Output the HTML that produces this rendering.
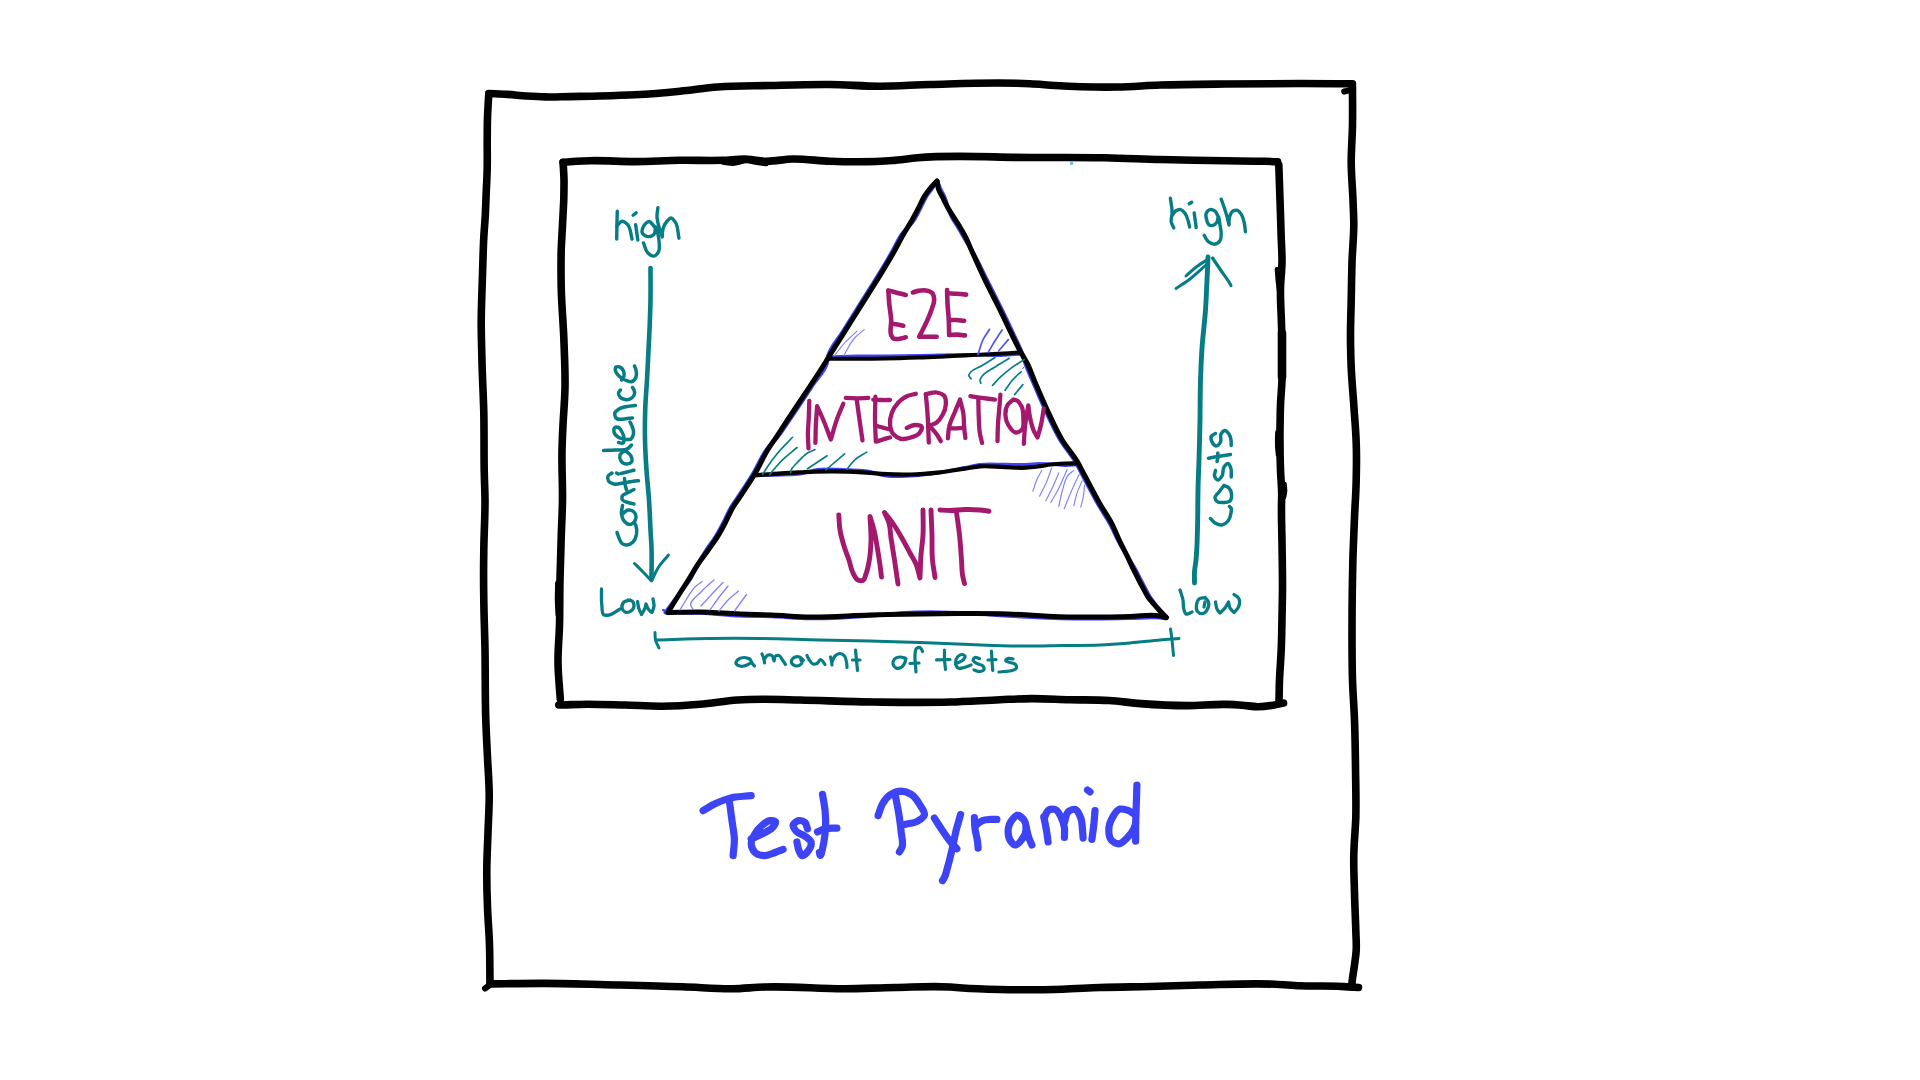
<!DOCTYPE html>
<html><head><meta charset="utf-8"><title>Test Pyramid</title>
<style>html,body{margin:0;padding:0;background:#fff;overflow:hidden;font-family:"Liberation Sans",sans-serif;}
svg{display:block;position:absolute;left:0;top:0}</style></head>
<body><svg width="1920" height="1080" viewBox="0 0 1920 1080" fill="none" stroke-linecap="round" stroke-linejoin="round">
<rect width="1920" height="1080" fill="#ffffff" stroke="none"/>
<path d="M488.8 93.5 C495.0 93.8 501.3 94.0 507.5 94.4 C513.8 94.8 520.0 95.6 526.2 96.0 C532.5 96.4 538.7 96.8 545.0 96.9 C553.3 97.1 561.7 96.7 570.0 96.6 C580.0 96.4 590.0 96.3 600.0 96.0 C611.7 95.7 623.3 95.4 635.0 94.8 C650.0 94.0 665.0 92.7 680.0 91.2 C692.5 90.0 705.0 88.0 717.5 87.0 C734.9 85.6 752.5 85.9 770.0 85.5 C790.0 85.0 810.0 84.3 830.0 84.5 C846.7 84.7 863.3 86.2 880.0 86.2 C896.7 86.2 913.3 84.9 930.0 84.5 C963.3 83.6 996.7 81.9 1030.0 83.8 C1038.3 84.2 1046.7 85.0 1055.0 85.5 C1075.8 86.7 1096.7 87.4 1117.5 87.0 C1131.7 86.7 1145.8 85.5 1160.0 85.0 C1181.7 84.3 1203.3 84.2 1225.0 84.0 C1250.0 83.7 1275.0 83.5 1300.0 83.5 C1317.5 83.5 1335.0 83.7 1352.5 83.8" stroke="#000000" stroke-width="7.6"/>
<path d="M1352.5 87.0 C1352.5 99.7 1352.7 112.3 1352.5 125.0 C1352.3 137.5 1351.2 150.0 1351.2 162.5 C1351.3 175.0 1352.5 187.5 1353.0 200.0 C1353.3 208.3 1353.8 216.7 1353.8 225.0 C1353.7 237.5 1352.4 250.0 1352.0 262.5 C1351.6 275.0 1351.5 287.5 1351.2 300.0 C1351.0 312.3 1350.4 324.7 1350.5 337.0 C1350.5 347.2 1350.8 357.3 1351.2 367.5 C1351.8 380.0 1352.9 392.5 1353.8 405.0 C1354.6 417.5 1355.8 430.0 1356.2 442.5 C1356.7 455.0 1356.5 467.5 1356.2 480.0 C1356.0 492.5 1355.0 505.0 1354.5 517.5 C1354.0 530.0 1353.4 542.5 1353.0 555.0 C1352.7 566.7 1352.5 578.3 1352.3 590.0 C1352.1 603.3 1352.0 616.7 1352.0 630.0 C1352.0 646.7 1352.0 663.3 1352.5 680.0 C1352.9 693.3 1354.0 706.7 1354.5 720.0 C1355.1 735.7 1355.3 751.3 1355.5 767.0 C1355.7 783.8 1356.2 800.7 1355.8 817.5 C1355.4 830.0 1354.0 842.5 1353.8 855.0 C1353.5 867.5 1354.2 880.0 1354.5 892.5 C1354.8 905.0 1355.4 917.5 1355.8 930.0 C1355.9 936.7 1356.6 943.4 1356.2 950.0 C1356.0 955.0 1355.1 960.0 1354.5 965.0 C1353.7 971.0 1352.5 977.0 1352.0 983.0 C1351.9 984.0 1351.9 985.0 1351.8 986.0" stroke="#000000" stroke-width="7.6"/>
<path d="M485.0 988.5 L489.0 985.5" stroke="#000000" stroke-width="6"/>
<path d="M490.0 983.9 C508.3 983.7 526.7 983.3 545.0 983.4 C570.0 983.5 595.0 984.4 620.0 985.0 C640.8 985.5 661.7 986.0 682.5 986.8 C699.2 987.3 715.8 989.0 732.5 988.8 C743.3 988.6 754.2 987.3 765.0 987.0 C791.6 986.1 818.3 988.9 845.0 988.8 C861.7 988.6 878.3 987.8 895.0 987.5 C913.3 987.2 931.7 985.8 950.0 987.0 C954.2 987.3 958.3 987.7 962.5 988.0 C975.0 988.9 987.5 989.2 1000.0 989.5 C1020.8 990.0 1041.7 989.9 1062.5 989.2 C1075.0 988.9 1087.5 987.9 1100.0 987.5 C1116.7 986.9 1133.3 986.9 1150.0 986.5 C1166.7 986.1 1183.3 985.4 1200.0 985.0 C1225.0 984.5 1250.0 983.2 1275.0 984.2 C1283.3 984.6 1291.7 985.4 1300.0 985.8 C1312.5 986.3 1325.0 985.7 1337.5 986.2 C1344.5 986.6 1351.5 987.1 1358.5 987.5" stroke="#000000" stroke-width="7.6"/>
<path d="M488.8 93.8 C488.3 101.7 487.8 109.6 487.5 117.5 C487.2 125.8 487.3 134.2 487.2 142.5 C487.2 150.8 487.4 159.2 487.2 167.5 C487.1 175.8 486.6 184.2 486.2 192.5 C485.9 200.0 485.7 207.5 485.3 215.0 C484.9 222.5 484.2 230.0 483.8 237.5 C483.1 250.0 482.9 262.5 482.5 275.0 C482.0 291.7 481.2 308.3 481.2 325.0 C481.3 337.5 481.7 350.0 482.0 362.5 C482.4 379.2 483.4 395.8 483.8 412.5 C484.2 431.7 483.9 450.8 484.2 470.0 C484.4 480.0 484.9 490.0 485.0 500.0 C485.1 516.7 484.0 533.3 483.8 550.0 C483.5 566.7 483.5 583.3 483.8 600.0 C484.0 616.7 484.7 633.3 485.0 650.0 C485.4 673.3 485.0 696.7 485.8 720.0 C486.2 732.5 486.9 745.0 487.5 757.5 C488.1 770.0 489.2 782.5 489.2 795.0 C489.3 807.5 488.4 820.0 488.0 832.5 C487.6 845.0 486.8 857.5 486.8 870.0 C486.7 882.5 487.0 895.0 487.5 907.5 C488.0 920.0 489.1 932.5 489.5 945.0 C489.9 957.7 489.8 970.3 490.0 983.0" stroke="#000000" stroke-width="7.6"/>
<path d="M1344.3 91.6 L1348.5 90.6" stroke="#000000" stroke-width="6.2"/>
<path d="M563.1 162.3 C567.5 162.0 571.9 161.6 576.2 161.3 C580.8 161.0 585.4 160.8 590.0 160.7 C605.0 160.3 620.0 161.7 635.0 161.6 C650.0 161.5 665.0 160.5 680.0 160.3 C694.2 160.1 708.3 160.7 722.5 160.3 C730.8 160.1 739.2 158.8 747.5 159.2 C753.3 159.5 759.2 161.0 765.0 161.2 C774.1 161.6 783.3 159.2 792.5 159.0 C805.0 158.7 817.5 160.8 830.0 161.2 C850.8 161.9 871.8 162.2 892.5 160.5 C900.8 159.8 909.2 158.5 917.5 157.8 C954.8 154.5 992.5 157.5 1030.0 157.5 C1055.0 157.5 1080.0 157.2 1105.0 157.7 C1123.3 158.1 1141.7 159.0 1160.0 159.5 C1181.7 160.1 1203.3 160.5 1225.0 160.8 C1238.3 161.0 1251.7 160.9 1265.0 161.3 C1269.2 161.4 1273.4 161.6 1277.6 161.8" stroke="#000000" stroke-width="7.6"/>
<path d="M1278.8 165.0 C1279.2 176.7 1279.6 188.3 1280.0 200.0 C1280.4 212.5 1280.9 225.0 1281.2 237.5 C1281.5 245.7 1282.1 253.8 1282.0 262.0 C1281.9 270.5 1280.7 279.0 1280.5 287.5 C1280.2 300.0 1281.2 312.5 1281.5 325.0 C1281.7 331.7 1281.9 338.3 1282.0 345.0 C1282.2 356.7 1282.4 368.3 1282.0 380.0 C1281.7 388.3 1280.8 396.7 1280.5 405.0 C1280.2 413.3 1280.1 421.7 1280.0 430.0 C1279.9 443.3 1280.0 456.7 1280.5 470.0 C1280.8 478.3 1281.7 486.7 1281.7 495.0 C1281.7 498.3 1281.5 501.7 1281.5 505.0 C1281.3 517.5 1281.8 530.0 1282.0 542.5 C1282.2 558.3 1282.6 574.2 1282.5 590.0 C1282.4 599.2 1282.2 608.3 1282.0 617.5 C1281.8 628.3 1281.7 639.2 1281.2 650.0 C1280.8 660.0 1279.9 670.0 1279.5 680.0 C1279.2 687.0 1279.2 694.0 1279.0 701.0" stroke="#000000" stroke-width="7.6"/>
<path d="M558.8 705.0 C568.3 704.8 577.9 704.3 587.5 704.2 C600.0 704.2 612.5 704.7 625.0 705.0 C637.5 705.3 650.0 706.4 662.5 706.2 C675.0 706.1 687.5 705.3 700.0 704.2 C712.5 703.2 725.0 700.8 737.5 700.0 C745.8 699.5 754.2 699.3 762.5 699.2 C775.0 699.1 787.5 699.7 800.0 700.0 C825.0 700.6 850.0 701.7 875.0 702.0 C900.0 702.3 925.0 702.7 950.0 702.0 C966.7 701.5 983.3 700.4 1000.0 699.7 C1010.3 699.3 1020.7 698.7 1031.0 698.6 C1044.0 698.5 1057.0 699.4 1070.0 699.7 C1083.0 700.0 1096.0 699.7 1109.0 700.5 C1119.6 701.2 1130.1 702.8 1140.6 703.6 C1156.2 704.8 1171.9 705.6 1187.5 705.6 C1200.5 705.6 1213.6 704.0 1226.6 704.4 C1231.7 704.5 1236.9 704.8 1242.0 705.2 C1247.3 705.6 1252.5 706.7 1257.8 706.7 C1263.0 706.7 1268.3 706.0 1273.4 705.2 C1276.8 704.6 1280.1 703.8 1283.5 703.1" stroke="#000000" stroke-width="7.6"/>
<path d="M563.1 162.5 C563.4 168.3 563.9 174.2 564.0 180.0 C564.1 186.2 563.9 192.5 563.8 198.8 C563.5 207.5 562.9 216.3 562.5 225.0 C562.1 233.3 561.5 241.7 561.2 250.0 C560.9 262.5 561.0 275.0 561.2 287.5 C561.6 304.2 563.1 320.8 563.8 337.5 C564.4 354.2 565.3 370.8 565.0 387.5 C564.8 400.0 563.6 412.5 563.0 425.0 C562.6 433.3 562.2 441.7 562.0 450.0 C561.6 466.7 562.7 483.3 562.5 500.0 C562.3 512.5 561.6 525.0 561.2 537.5 C561.0 545.8 560.7 554.2 560.5 562.5 C560.3 568.3 560.1 574.2 560.0 580.0 C559.6 595.0 559.9 610.0 559.5 625.0 C559.2 637.5 557.8 650.0 558.0 662.5 C558.1 674.7 559.5 686.8 560.3 699.0" stroke="#000000" stroke-width="7.6"/>
<path d="M557.6 583.0 C557.5 588.7 557.2 594.3 557.3 600.0 C557.4 605.0 557.8 610.0 558.0 615.0" stroke="#000000" stroke-width="5"/>
<path d="M1282.0 333.0 L1282.0 377.0" stroke="#000000" stroke-width="8.6"/>
<path d="M723.0 161.8 C726.3 162.2 729.7 163.0 733.0 163.0 C737.7 162.9 742.3 160.1 747.0 160.2 C750.3 160.3 753.7 161.5 757.0 162.0 C760.0 162.5 763.0 162.9 766.0 163.3" stroke="#000000" stroke-width="6"/>
<path d="M1277.2 269.5 C1277.5 273.0 1277.7 276.5 1278.0 280.0 C1278.4 284.0 1279.0 288.0 1279.5 292.0" stroke="#000000" stroke-width="5"/>
<path d="M1277.4 432.0 C1277.3 436.3 1277.0 440.7 1277.2 445.0 C1277.3 448.3 1277.7 451.7 1278.0 455.0" stroke="#000000" stroke-width="4.5"/>
<path d="M1284.6 484.0 C1284.7 486.7 1285.3 489.4 1285.0 492.0 C1284.8 493.7 1284.3 495.3 1284.0 497.0" stroke="#000000" stroke-width="4.5"/>
<path d="M1071.5 163.0 L1071.7 163.4" stroke="#55c3f2" stroke-width="3.3"/>
<path d="M937.0 181.0 C935.4 183.4 933.8 185.9 932.1 188.3 C930.0 191.3 927.7 194.0 925.8 197.1 C923.9 200.3 922.5 203.9 920.8 207.2 C918.8 211.2 916.9 215.3 914.5 219.1 C910.6 225.3 904.6 230.0 900.6 236.1 C897.8 240.5 895.6 245.4 893.1 250.0 C881.8 270.5 868.8 290.1 856.4 310.0 C851.7 317.5 846.9 324.9 842.3 332.5 C837.4 340.4 830.2 347.5 828.0 356.5 C827.5 358.6 827.4 360.9 826.9 363.0 C824.8 371.3 817.5 377.7 812.7 385.0 C805.0 396.7 797.4 408.5 789.4 420.0 C785.0 426.4 781.0 433.1 776.0 439.0 C773.5 441.9 770.6 444.5 768.2 447.5 C761.5 455.7 757.9 466.0 752.3 475.0 C747.4 482.9 742.3 490.6 737.1 498.3 C735.2 501.1 733.2 503.8 731.4 506.7 C728.2 512.0 726.0 517.8 723.1 523.3 C720.7 527.8 718.3 532.4 715.6 536.7 C712.8 541.3 709.3 545.5 706.4 550.0 C703.3 554.9 700.3 559.9 697.5 565.0 C694.7 569.9 692.5 575.2 689.5 580.0 C686.6 584.5 683.2 588.7 680.0 593.0 C675.2 599.5 670.3 606.0 665.5 612.5" stroke="#4143f7" stroke-width="4.0"/>
<path d="M937.2 181.3 C938.2 183.8 939.2 186.4 940.3 188.9 C941.6 191.9 943.5 194.7 944.7 197.7 C946.0 201.0 946.7 204.5 947.9 207.8 C949.2 211.2 950.6 214.7 952.3 217.9 C954.1 221.4 956.6 224.5 958.6 227.9 C960.3 230.8 961.9 233.9 963.6 236.8 C965.6 240.3 967.9 243.6 970.0 247.0 C976.3 257.6 981.3 269.0 986.9 280.0 C991.9 290.0 997.0 300.0 1001.9 310.0 C1005.6 317.5 1009.2 325.0 1012.7 332.5 C1015.5 338.6 1018.6 344.6 1021.0 350.8 C1022.7 355.1 1024.0 359.6 1025.6 364.0 C1027.9 370.2 1030.7 376.4 1033.3 382.5 C1036.9 390.9 1040.4 399.2 1044.2 407.5 C1049.3 418.5 1054.1 429.7 1060.3 440.0 C1065.2 448.1 1071.8 455.1 1076.4 463.3 C1077.6 465.5 1078.7 467.8 1079.9 470.0 C1082.9 475.7 1085.9 481.3 1088.9 487.0 C1091.9 492.7 1094.9 498.4 1098.1 504.0 C1101.8 510.5 1106.2 516.7 1109.8 523.3 C1112.8 528.7 1115.1 534.5 1118.0 540.0 C1121.0 545.7 1124.2 551.2 1127.5 556.7 C1130.0 560.9 1132.8 564.9 1135.2 569.2 C1137.2 572.7 1138.8 576.4 1140.7 580.0 C1141.9 582.3 1143.1 584.7 1144.4 587.0 C1146.2 590.3 1147.8 593.8 1149.9 597.0 C1151.5 599.4 1153.2 601.7 1155.0 604.0 C1156.6 606.0 1158.3 608.0 1160.0 610.0 C1162.1 612.5 1164.3 615.0 1166.5 617.5" stroke="#4143f7" stroke-width="4.0"/>
<path d="M668.0 612.5 C678.7 612.7 689.3 612.6 700.0 613.0 C713.4 613.5 726.7 615.2 740.0 615.8 C750.7 616.3 761.3 616.1 772.0 616.5 C784.7 617.0 797.3 618.3 810.0 618.5 C830.0 618.8 850.0 617.5 870.0 616.0 C881.7 615.1 893.3 613.3 905.0 612.7 C916.6 612.1 928.3 612.1 940.0 612.2 C951.7 612.4 963.3 612.8 975.0 613.5 C983.3 614.0 991.7 614.8 1000.0 615.4 C1025.0 617.0 1050.0 618.2 1075.0 618.6 C1093.3 618.9 1111.7 618.5 1130.0 618.3 C1140.0 618.2 1150.1 616.9 1160.0 617.8 C1162.0 618.0 1164.0 618.3 1166.0 618.5" stroke="#4143f7" stroke-width="3.6"/>
<path d="M829.0 356.8 C838.2 356.6 847.5 356.4 856.7 356.2 C866.1 356.1 875.6 356.1 885.0 356.0 C896.7 355.9 908.3 355.7 920.0 355.5 C926.7 355.4 933.3 355.3 940.0 355.2 C948.3 355.0 956.7 354.5 965.0 354.5 C970.0 354.5 975.0 354.6 980.0 354.7 C986.1 354.8 992.2 355.4 998.3 355.4 C1005.4 355.3 1012.4 354.5 1019.5 354.1" stroke="#4143f7" stroke-width="3.2"/>
<path d="M754.0 475.4 C763.2 475.2 772.5 475.3 781.7 474.9 C787.8 474.6 794.0 474.8 800.0 473.8 C805.1 473.0 810.0 471.0 815.0 470.1 C825.9 468.3 837.2 469.4 848.3 469.9 C855.5 470.2 863.0 470.0 870.0 471.6 C874.0 472.5 877.7 474.4 881.7 475.2 C890.8 477.3 900.6 476.4 910.0 476.0 C920.0 475.5 930.1 473.9 940.0 472.3 C948.4 471.0 956.7 469.2 965.0 467.6 C970.0 466.6 975.0 465.2 980.0 464.6 C988.2 463.6 996.7 464.4 1005.0 464.4 C1011.9 464.4 1018.9 464.7 1025.8 464.5 C1030.5 464.4 1035.3 463.7 1040.0 463.7 C1043.6 463.7 1047.2 463.8 1050.8 464.0 C1055.5 464.3 1060.3 465.2 1065.0 465.3 C1069.3 465.4 1073.7 465.0 1078.0 464.8" stroke="#4143f7" stroke-width="3.2"/>
<path d="M663.2 610.0 L666.0 611.5" stroke="#4143f7" stroke-width="2.4"/>
<path d="M937.0 181.0 C934.7 183.4 932.3 185.7 930.2 188.3 C927.9 191.1 925.8 194.0 923.9 197.1 C922.0 200.3 920.6 203.9 918.9 207.2 C916.9 211.2 914.8 215.2 912.6 219.1 C909.4 224.9 905.7 230.4 902.5 236.1 C899.9 240.7 897.5 245.4 895.0 250.0 C883.7 270.5 870.7 290.1 858.3 310.0 C853.6 317.5 848.9 325.0 844.2 332.5 C839.2 340.5 834.0 348.4 829.0 356.5 C827.7 358.7 826.3 360.8 825.0 363.0 C820.4 370.4 815.6 377.7 810.8 385.0 C803.1 396.7 795.2 408.3 787.5 420.0 C783.3 426.3 779.2 432.7 775.0 439.0 C773.1 441.8 771.1 444.6 769.2 447.5 C763.5 456.3 759.6 466.1 754.2 475.0 C749.4 482.9 744.2 490.6 739.0 498.3 C737.1 501.1 735.1 503.8 733.3 506.7 C730.1 512.0 727.9 517.8 725.0 523.3 C722.6 527.8 720.2 532.4 717.5 536.7 C714.7 541.3 711.4 545.6 708.3 550.0 C704.8 555.0 700.9 559.9 697.5 565.0 C694.3 569.9 691.4 575.0 688.3 580.0 C685.6 584.4 682.7 588.6 680.0 593.0 C675.9 599.5 672.0 606.0 668.0 612.5" stroke="#000000" stroke-width="5.0"/>
<path d="M937.2 181.3 C937.6 183.8 937.7 186.5 938.4 188.9 C939.3 192.0 941.3 194.8 942.8 197.7 C944.5 201.1 946.1 204.5 947.9 207.8 C949.8 211.3 952.1 214.5 954.2 217.9 C956.3 221.2 958.5 224.5 960.5 227.9 C962.2 230.8 964.0 233.8 965.5 236.8 C967.2 240.1 968.5 243.6 970.0 247.0 C974.9 258.0 979.8 269.1 985.0 280.0 C989.8 290.1 995.1 300.0 1000.0 310.0 C1003.7 317.5 1007.1 325.0 1010.8 332.5 C1013.8 338.6 1016.8 344.8 1020.0 350.8 C1022.4 355.3 1025.2 359.5 1027.5 364.0 C1030.5 370.0 1032.6 376.4 1035.2 382.5 C1038.8 390.9 1042.3 399.2 1046.1 407.5 C1051.2 418.5 1056.0 429.7 1062.2 440.0 C1067.1 448.1 1073.7 455.1 1078.3 463.3 C1079.5 465.5 1080.6 467.8 1081.8 470.0 C1084.8 475.7 1087.8 481.3 1090.8 487.0 C1093.8 492.7 1096.8 498.4 1100.0 504.0 C1103.7 510.5 1108.3 516.6 1111.7 523.3 C1114.5 528.7 1116.6 534.5 1119.2 540.0 C1121.9 545.6 1124.8 551.1 1127.5 556.7 C1129.5 560.8 1131.3 565.1 1133.3 569.2 C1135.1 572.8 1136.9 576.4 1138.8 580.0 C1140.0 582.3 1141.2 584.7 1142.5 587.0 C1144.3 590.3 1145.8 593.9 1148.0 597.0 C1149.7 599.5 1151.8 601.7 1153.7 604.0 C1155.4 606.0 1157.2 608.0 1159.0 610.0 C1161.4 612.6 1164.0 615.0 1166.5 617.5" stroke="#000000" stroke-width="5.0"/>
<path d="M668.0 612.5 C678.7 612.3 689.3 611.9 700.0 612.0 C713.3 612.2 726.7 613.5 740.0 614.0 C750.7 614.4 761.3 614.6 772.0 615.0 C784.7 615.5 797.3 616.8 810.0 617.0 C830.0 617.4 850.0 615.5 870.0 615.0 C881.7 614.7 893.3 614.4 905.0 614.2 C916.7 614.0 928.3 613.9 940.0 613.8 C951.7 613.6 963.3 613.5 975.0 613.5 C983.3 613.5 991.7 613.6 1000.0 613.8 C1025.0 614.2 1050.0 616.7 1075.0 617.0 C1093.3 617.2 1111.7 616.8 1130.0 616.5 C1140.0 616.4 1150.2 614.0 1160.0 616.0 C1162.0 616.4 1164.0 617.0 1166.0 617.5" stroke="#000000" stroke-width="5.0"/>
<path d="M829.0 358.8 C838.2 358.8 847.5 358.8 856.7 358.8 C866.1 358.7 875.6 358.7 885.0 358.5 C896.7 358.3 908.3 357.9 920.0 357.5 C926.7 357.3 933.3 357.0 940.0 356.7 C948.3 356.3 956.7 355.9 965.0 355.5 C970.0 355.2 975.0 355.0 980.0 354.7 C986.1 354.4 992.2 354.1 998.3 353.8 C1005.4 353.4 1012.4 352.9 1019.5 352.5" stroke="#000000" stroke-width="4.0"/>
<path d="M754.0 475.4 C763.2 474.7 772.5 473.9 781.7 473.3 C787.8 472.9 793.9 472.6 800.0 472.3 C805.0 472.1 810.0 471.8 815.0 471.7 C826.1 471.4 837.2 471.4 848.3 471.7 C855.5 471.9 862.8 472.3 870.0 472.8 C873.9 473.1 877.8 473.5 881.7 473.8 C891.1 474.4 900.6 474.7 910.0 474.5 C920.0 474.3 930.0 473.4 940.0 472.3 C948.4 471.3 956.7 469.8 965.0 468.6 C970.0 467.9 975.0 466.8 980.0 466.4 C988.3 465.7 996.7 467.0 1005.0 467.2 C1011.9 467.4 1018.9 468.1 1025.8 467.7 C1030.5 467.5 1035.3 466.8 1040.0 466.2 C1043.6 465.7 1047.2 464.9 1050.8 464.5 C1055.5 463.9 1060.3 463.7 1065.0 463.5 C1069.3 463.3 1073.7 463.4 1078.0 463.3" stroke="#000000" stroke-width="4.2"/>
<path d="M905.8 295.0 C902.8 294.2 899.7 293.5 896.7 292.7 C893.9 291.9 891.1 291.2 888.3 290.4 C888.6 294.7 888.8 299.0 889.2 303.3 C889.7 308.9 890.9 314.4 891.2 320.0 C891.6 325.3 889.0 331.3 891.5 335.8 C892.0 336.8 892.6 337.9 893.3 338.5 C894.7 339.6 897.2 338.9 899.2 338.8 C901.4 338.6 903.6 337.8 905.8 337.3" stroke="#a3196e" stroke-width="4.6"/>
<path d="M891.7 323.8 C893.6 324.0 895.6 324.3 897.5 324.6 C899.5 324.9 901.4 325.3 903.3 325.7" stroke="#a3196e" stroke-width="4.6"/>
<path d="M912.9 292.5 C914.7 291.9 916.5 291.2 918.3 290.8 C920.8 290.4 923.4 290.0 925.8 290.4 C928.2 290.8 931.1 291.6 932.5 293.3 C933.6 294.8 934.0 297.2 934.2 299.2 C934.5 302.5 932.7 305.9 931.7 309.2 C930.3 313.4 928.5 317.6 926.7 321.7 C924.4 326.8 921.7 331.7 919.2 336.7 C921.9 336.7 924.7 336.7 927.5 336.7 C930.6 336.7 933.6 336.7 936.7 336.7" stroke="#a3196e" stroke-width="4.6"/>
<path d="M947.1 290.0 C947.2 294.4 947.3 298.9 947.5 303.3 C947.8 308.9 948.5 314.4 948.8 320.0 C949.0 325.0 949.0 330.0 949.2 335.0" stroke="#a3196e" stroke-width="4.6"/>
<path d="M947.5 293.3 C950.3 293.5 953.1 293.6 955.8 293.8 C959.3 294.0 962.8 294.3 966.2 294.6" stroke="#a3196e" stroke-width="4.6"/>
<path d="M949.2 320.0 C951.7 320.0 954.2 319.9 956.7 320.0 C959.2 320.1 961.7 320.6 964.2 320.8" stroke="#a3196e" stroke-width="4.6"/>
<path d="M949.2 335.0 C951.9 334.9 954.7 334.5 957.5 334.6 C960.0 334.7 962.5 335.1 965.0 335.4" stroke="#a3196e" stroke-width="4.6"/>
<path d="M809.3 400.8 C809.1 406.4 809.0 411.9 808.8 417.5 C808.5 423.1 807.9 428.6 807.9 434.2 C807.9 438.9 808.3 443.6 808.5 448.3" stroke="#a3196e" stroke-width="4.3"/>
<path d="M815.4 442.9 C815.6 437.2 815.6 431.5 815.8 425.8 C816.1 419.3 816.7 412.8 817.1 406.2 C819.2 410.8 821.4 415.4 823.3 420.0 C826.1 426.4 828.3 433.1 830.8 439.6 C832.8 433.1 834.4 426.4 836.7 420.0 C838.6 414.5 841.1 409.2 843.3 403.8" stroke="#a3196e" stroke-width="4.3"/>
<path d="M845.8 397.9 C849.4 398.1 853.1 398.3 856.7 398.3 C860.6 398.3 864.4 398.1 868.3 397.9" stroke="#a3196e" stroke-width="4.3"/>
<path d="M856.7 399.2 C857.5 405.3 858.3 411.4 859.2 417.5 C860.2 425.1 861.4 432.8 862.5 440.4" stroke="#a3196e" stroke-width="4.3"/>
<path d="M875.4 396.7 C875.3 403.6 875.0 410.6 875.0 417.5 C875.0 425.6 875.6 433.6 875.8 441.7 C878.1 441.0 880.3 440.2 882.5 439.6 C885.0 438.8 887.5 438.2 890.0 437.5" stroke="#a3196e" stroke-width="4.3"/>
<path d="M873.3 399.6 C876.1 399.7 878.9 399.9 881.7 400.0 C884.4 400.1 887.2 400.0 890.0 400.0" stroke="#a3196e" stroke-width="4.3"/>
<path d="M875.8 425.8 C878.1 426.4 880.3 426.9 882.5 427.5 C884.7 428.1 886.9 428.6 889.2 429.2" stroke="#a3196e" stroke-width="4.3"/>
<path d="M915.8 393.8 C912.8 394.6 909.5 394.9 906.7 396.2 C903.6 397.7 900.7 400.0 898.3 402.5 C895.5 405.5 893.0 409.4 891.7 413.3 C890.5 416.7 889.7 420.6 890.0 424.2 C890.3 427.6 891.2 431.7 893.3 434.2 C895.1 436.3 898.1 438.1 900.8 438.8 C903.9 439.5 907.7 438.5 910.8 437.5 C913.8 436.6 917.3 435.6 919.2 433.3 C920.6 431.6 922.4 428.1 921.7 426.7 C920.9 425.3 917.2 425.0 915.0 425.0 C912.2 425.0 909.4 426.9 906.7 427.9" stroke="#a3196e" stroke-width="4.3"/>
<path d="M925.8 394.2 C926.4 400.6 927.1 406.9 927.5 413.3 C927.9 418.9 928.1 424.4 928.3 430.0 C928.5 434.2 928.6 438.3 928.8 442.5" stroke="#a3196e" stroke-width="4.3"/>
<path d="M925.8 394.2 C929.4 393.6 933.2 391.9 936.7 392.5 C939.3 393.0 942.6 394.0 944.2 395.8 C945.9 397.9 946.0 402.0 945.8 405.0 C945.6 408.4 944.2 412.0 942.5 415.0 C941.0 417.7 939.1 420.7 936.7 422.5 C934.5 424.1 931.7 424.7 929.2 425.8 C931.7 428.6 934.5 431.1 936.7 434.2 C938.2 436.4 939.4 438.9 940.8 441.2" stroke="#a3196e" stroke-width="4.3"/>
<path d="M947.9 438.3 C948.3 434.4 948.3 430.5 949.2 426.7 C950.3 421.5 953.0 416.6 955.0 411.7 C956.6 407.6 958.3 403.6 960.0 399.6 C961.1 404.2 962.6 408.7 963.3 413.3 C964.1 418.3 963.7 423.4 964.2 428.3 C964.5 431.5 965.0 434.7 965.4 437.9" stroke="#a3196e" stroke-width="4.3"/>
<path d="M949.2 428.3 C951.7 428.3 954.2 428.4 956.7 428.3 C959.2 428.3 961.7 428.1 964.2 427.9" stroke="#a3196e" stroke-width="4.3"/>
<path d="M970.4 396.2 C974.2 396.8 977.9 397.4 981.7 397.9 C986.1 398.5 990.6 399.0 995.0 399.6" stroke="#a3196e" stroke-width="4.3"/>
<path d="M978.3 398.3 C978.5 404.7 978.4 411.1 978.8 417.5 C979.0 423.1 979.0 428.7 980.0 434.2 C980.5 437.1 981.4 440.0 982.1 442.9" stroke="#a3196e" stroke-width="4.3"/>
<path d="M1000.4 394.6 C1000.0 399.4 999.6 404.3 999.2 409.2 C998.7 414.7 998.2 420.3 997.9 425.8 C997.7 431.0 997.6 436.1 997.5 441.2" stroke="#a3196e" stroke-width="4.3"/>
<path d="M1013.3 399.6 C1011.4 401.4 1008.8 402.8 1007.5 405.0 C1005.8 407.8 1005.3 411.7 1005.4 415.0 C1005.5 418.4 1006.6 422.1 1008.3 425.0 C1010.1 428.0 1012.9 432.4 1015.8 432.5 C1017.6 432.5 1020.3 431.3 1021.7 430.0 C1024.4 427.5 1023.4 421.7 1023.3 417.5 C1023.3 413.9 1023.2 409.9 1021.7 406.7 C1020.7 404.6 1019.4 402.0 1017.5 400.8 C1016.3 400.1 1014.7 400.0 1013.3 399.6" stroke="#a3196e" stroke-width="4.3"/>
<path d="M1023.8 443.8 C1024.2 438.1 1024.4 432.3 1025.0 426.7 C1025.8 419.5 1027.2 412.5 1028.3 405.4 C1028.9 409.4 1029.2 413.5 1030.0 417.5 C1031.0 422.3 1032.1 427.3 1034.2 431.7 C1035.1 433.7 1036.4 435.6 1037.5 437.5 C1038.6 433.6 1039.9 429.8 1040.8 425.8 C1042.2 420.1 1042.8 414.2 1043.8 408.3" stroke="#a3196e" stroke-width="4.3"/>
<path d="M838.8 515.0 C839.2 520.0 839.2 525.1 840.0 530.0 C840.9 535.4 842.4 540.7 844.0 546.0 C845.4 550.7 847.4 555.3 849.0 560.0 C850.4 564.3 850.9 569.1 853.0 573.0 C854.3 575.5 855.6 579.0 858.0 580.0 C859.4 580.6 861.7 581.0 863.0 580.5 C864.8 579.7 865.1 576.2 866.0 574.0 C867.8 569.2 868.7 564.1 869.5 559.0 C870.5 552.7 870.8 546.3 871.0 540.0 C871.2 532.2 870.3 524.3 870.0 516.5 C871.3 521.0 872.9 525.4 874.0 530.0 C875.3 535.3 876.1 540.7 877.0 546.0 C878.1 552.3 879.1 558.6 880.0 565.0 C880.5 569.0 881.0 573.0 881.5 577.0" stroke="#a3196e" stroke-width="4.9"/>
<path d="M898.0 584.0 C896.8 576.0 895.7 568.0 894.5 560.0 C893.4 552.7 892.1 545.3 891.0 538.0 C890.3 533.0 890.4 527.8 889.0 523.0 C887.9 519.4 886.0 516.0 884.5 512.5 C887.7 516.7 891.1 520.7 894.0 525.0 C897.3 529.8 900.1 534.9 903.0 540.0 C905.4 544.3 907.7 548.7 910.0 553.0 C912.0 556.7 914.4 560.2 916.0 564.0 C917.9 568.4 918.7 573.3 920.0 578.0 C920.3 570.3 920.4 562.7 921.0 555.0 C921.5 548.3 922.6 541.7 923.0 535.0 C923.5 526.7 923.0 518.3 923.0 510.0" stroke="#a3196e" stroke-width="4.9"/>
<path d="M931.0 510.0 C931.3 518.3 931.7 526.7 932.0 535.0 C932.2 543.3 931.7 551.7 932.5 560.0 C933.0 565.9 934.2 571.7 935.0 577.5" stroke="#a3196e" stroke-width="4.9"/>
<path d="M940.0 510.0 C943.3 510.2 946.7 510.5 950.0 510.5 C955.0 510.5 960.0 509.6 965.0 509.5 C970.0 509.4 975.0 509.5 980.0 510.0 C983.0 510.3 986.0 510.8 989.0 511.2" stroke="#a3196e" stroke-width="4.9"/>
<path d="M956.5 512.5 C957.5 520.0 958.7 527.5 959.5 535.0 C960.4 543.3 960.9 551.7 961.5 560.0 C961.9 565.0 961.7 570.1 962.5 575.0 C963.0 577.9 963.8 580.7 964.5 583.5" stroke="#a3196e" stroke-width="4.9"/>
<path d="M617.3 211.1 C617.2 215.7 617.0 220.4 616.9 225.0 C616.8 229.7 616.8 234.4 616.7 239.1" stroke="#067c85" stroke-width="3.4"/>
<path d="M617.0 226.0 C618.7 224.4 620.1 221.3 622.0 221.2 C623.6 221.1 625.7 222.8 627.1 224.0 C630.9 227.2 630.4 234.1 632.1 239.1" stroke="#067c85" stroke-width="3.4"/>
<path d="M633.1 215.2 L636.2 212.7" stroke="#067c85" stroke-width="3.4"/>
<path d="M635.6 224.6 L637.8 240.1" stroke="#067c85" stroke-width="3.4"/>
<path d="M654.8 227.2 C652.9 225.3 651.0 221.6 649.1 221.5 C647.0 221.4 643.8 225.2 642.8 227.8 C642.2 229.3 641.7 231.5 642.2 232.8 C642.9 234.8 646.3 236.6 648.5 236.6 C650.3 236.6 653.0 235.5 654.2 234.1 C655.5 232.5 655.0 228.2 655.4 227.2 C656.4 224.9 659.1 238.0 659.2 243.5 C659.3 246.2 659.8 249.5 658.6 251.7 C657.6 253.5 655.3 255.9 653.5 256.1 C651.8 256.2 649.4 254.4 647.9 253.0 C645.3 250.6 645.0 246.3 643.5 242.9" stroke="#067c85" stroke-width="3.4"/>
<path d="M657.9 207.6 C657.6 210.5 656.9 213.5 657.0 216.4 C657.1 220.2 658.2 224.1 659.2 227.8 C660.0 230.9 661.3 233.9 662.3 236.9 C662.5 234.3 662.3 231.5 663.0 229.0 C663.7 226.3 665.0 223.5 666.8 221.5 C668.0 220.1 669.8 217.9 671.2 218.0 C672.5 218.1 673.9 220.2 674.9 221.5 C678.4 225.8 677.6 232.6 679.0 238.2" stroke="#067c85" stroke-width="3.4"/>
<path d="M1170.4 198.3 C1171.0 203.3 1172.2 208.3 1172.1 213.3 C1172.0 216.1 1170.8 219.0 1171.2 221.7 C1171.6 223.8 1172.9 225.8 1173.8 227.9" stroke="#067c85" stroke-width="3.4"/>
<path d="M1172.5 215.0 C1173.6 213.6 1174.4 211.7 1175.8 210.8 C1177.2 210.0 1179.4 209.2 1180.8 209.6 C1182.4 209.9 1183.9 211.9 1185.0 213.3 C1186.4 215.2 1187.2 217.7 1187.9 220.0 C1188.7 222.3 1189.0 224.7 1189.6 227.1" stroke="#067c85" stroke-width="3.4"/>
<path d="M1189.2 203.8 L1191.7 202.3" stroke="#067c85" stroke-width="3.4"/>
<path d="M1194.2 212.9 C1194.6 215.8 1195.0 218.8 1195.4 221.7 C1195.7 223.6 1196.0 225.6 1196.2 227.5" stroke="#067c85" stroke-width="3.4"/>
<path d="M1218.3 216.7 C1217.2 214.9 1216.6 212.4 1215.0 211.2 C1213.7 210.3 1211.5 209.2 1210.0 209.6 C1208.5 209.9 1206.9 211.9 1206.2 213.3 C1205.4 215.2 1206.1 217.9 1206.7 220.0 C1207.2 221.8 1207.7 224.2 1209.2 225.0 C1210.1 225.5 1211.8 225.7 1212.9 225.4 C1214.3 225.1 1215.8 223.7 1216.7 222.5 C1217.8 220.9 1217.8 217.0 1218.3 216.7 C1219.0 216.2 1219.5 222.2 1220.0 225.0 C1220.5 228.0 1221.4 231.1 1221.2 234.2 C1221.1 236.4 1221.2 239.2 1220.0 240.8 C1218.8 242.5 1216.2 244.1 1214.2 244.2 C1212.3 244.2 1209.9 242.9 1208.3 241.7 C1206.4 240.2 1205.6 237.5 1204.2 235.4" stroke="#067c85" stroke-width="3.4"/>
<path d="M1221.2 199.2 C1222.2 201.9 1223.2 204.7 1224.2 207.5 C1225.2 210.5 1226.2 213.6 1227.1 216.7 C1227.8 219.4 1228.4 222.2 1229.0 225.0 C1229.2 222.2 1228.7 219.2 1229.6 216.7 C1230.3 214.6 1231.4 211.7 1233.3 210.8 C1234.5 210.3 1236.3 210.1 1237.5 210.4 C1239.3 210.9 1240.6 213.3 1241.7 215.0 C1243.0 217.2 1243.6 219.9 1244.2 222.5 C1244.9 225.5 1245.0 228.6 1245.4 231.7" stroke="#067c85" stroke-width="3.4"/>
<path d="M650.5 268.0 C650.5 278.7 650.7 289.3 650.5 300.0 C650.3 310.0 649.9 320.0 649.5 330.0 C649.2 336.7 648.8 343.3 648.5 350.0 C648.0 360.0 647.5 370.0 647.0 380.0 C646.4 390.0 645.5 400.0 645.2 410.0 C644.9 420.0 644.8 430.0 645.0 440.0 C645.2 450.0 645.8 460.0 646.5 470.0 C647.2 480.0 648.3 490.0 649.0 500.0 C649.7 510.0 650.0 520.0 650.5 530.0 C650.8 536.0 651.3 542.0 651.5 548.0 C651.9 558.3 651.5 568.7 651.5 579.0" stroke="#067c85" stroke-width="4.6"/>
<path d="M634.5 563.5 C637.7 566.7 640.9 569.8 644.0 573.0 C646.5 575.6 649.0 578.3 651.5 581.0 C653.7 576.7 655.4 572.1 658.0 568.0 C661.0 563.3 665.0 559.3 668.5 555.0" stroke="#067c85" stroke-width="3.0"/>
<path d="M1208.0 257.0 C1207.7 264.7 1207.4 272.3 1207.0 280.0 C1206.5 290.0 1206.2 300.0 1205.5 310.0 C1204.6 322.7 1202.9 335.3 1202.0 348.0 C1201.3 358.7 1200.8 369.3 1200.5 380.0 C1200.1 393.3 1200.2 406.7 1200.0 420.0 C1199.7 433.3 1199.4 446.7 1199.0 460.0 C1198.7 470.0 1198.2 480.0 1198.0 490.0 C1197.7 502.7 1197.9 515.3 1197.5 528.0 C1197.2 538.7 1197.1 549.4 1196.0 560.0 C1195.6 564.0 1194.7 568.0 1194.5 572.0 C1194.3 575.7 1194.5 579.3 1194.5 583.0" stroke="#067c85" stroke-width="4.8999999999999995"/>
<path d="M1207.5 259.5 C1203.3 262.3 1198.9 264.9 1195.0 268.0 C1191.9 270.5 1189.0 273.3 1186.0 276.0" stroke="#067c85" stroke-width="3.0"/>
<path d="M1206.0 265.0 C1200.7 269.7 1195.6 274.7 1190.0 279.0 C1185.5 282.4 1180.7 285.3 1176.0 288.5" stroke="#067c85" stroke-width="3.0"/>
<path d="M1212.5 258.0 C1215.7 262.7 1218.8 267.4 1222.0 272.0 C1224.3 275.3 1226.9 278.5 1229.0 282.0 C1229.7 283.2 1230.3 284.3 1231.0 285.5" stroke="#067c85" stroke-width="3.2"/>
<path d="M621.5 380.0 C622.3 378.7 623.6 377.4 624.0 376.0 C624.4 374.5 624.1 372.4 623.5 371.0 C622.8 369.4 621.2 367.5 619.5 367.0 C618.5 366.7 616.7 366.5 616.0 367.0 C615.2 367.6 615.3 369.8 615.5 371.0 C615.8 372.9 617.6 374.6 619.0 376.0 C620.7 377.7 622.8 379.1 625.0 380.0 C627.2 380.9 630.1 382.2 632.0 381.5 C633.6 380.9 635.3 378.7 636.0 377.0 C636.8 375.0 636.5 372.2 636.0 370.0 C635.7 368.6 635.0 367.3 634.5 366.0" stroke="#067c85" stroke-width="3.5"/>
<path d="M620.5 390.0 C619.8 391.0 618.7 391.9 618.5 393.0 C618.3 394.3 619.2 396.0 620.0 397.0 C621.1 398.3 623.3 399.2 625.0 399.5 C626.9 399.8 629.4 399.5 631.0 398.5 C632.5 397.6 634.2 395.7 634.5 394.0 C634.7 392.8 634.5 391.2 634.0 390.0 C633.7 389.1 633.0 388.3 632.5 387.5" stroke="#067c85" stroke-width="3.5"/>
<path d="M632.5 418.0 C626.8 417.7 617.4 421.7 615.5 417.2 C615.0 416.1 614.5 414.2 614.8 413.0 C615.2 411.3 617.4 410.0 619.0 409.0 C621.3 407.5 624.3 407.1 627.0 406.5 C629.8 405.9 632.7 405.8 635.5 405.5" stroke="#067c85" stroke-width="3.5"/>
<path d="M618.5 442.5 C620.0 442.7 622.1 443.6 623.0 443.0 C624.1 442.3 624.1 439.6 624.0 438.0 C623.9 436.0 623.0 433.8 622.0 432.0 C621.1 430.4 620.1 428.1 618.5 427.5 C617.5 427.1 615.8 427.0 615.0 427.5 C614.0 428.1 613.8 430.6 614.0 432.0 C614.3 433.9 616.3 435.8 618.0 437.0 C619.7 438.2 621.9 438.6 624.0 439.0 C626.3 439.4 629.4 440.2 631.0 439.0 C632.3 438.1 633.1 435.7 633.5 434.0 C634.0 431.5 633.0 428.5 632.0 426.0 C631.5 424.6 630.7 423.3 630.0 422.0" stroke="#067c85" stroke-width="3.5"/>
<path d="M603.5 450.5 C607.3 450.3 611.2 450.3 615.0 450.0 C619.3 449.7 624.6 450.9 628.0 448.5 C629.3 447.6 630.3 446.2 631.5 445.0" stroke="#067c85" stroke-width="3.5"/>
<path d="M625.0 450.5 C623.3 452.0 620.6 453.1 620.0 455.0 C619.5 456.7 620.0 459.5 621.0 461.0 C622.1 462.6 625.0 464.1 627.0 464.0 C628.5 463.9 630.7 463.1 631.5 462.0 C632.4 460.7 631.7 457.7 631.0 456.0 C630.1 454.0 627.7 452.7 626.0 451.0" stroke="#067c85" stroke-width="3.5"/>
<path d="M621.0 473.5 C623.0 473.0 625.0 472.5 627.0 472.0 C629.3 471.4 631.7 470.9 634.0 470.3" stroke="#067c85" stroke-width="3.5"/>
<path d="M616.5 473.0 L618.5 474.0" stroke="#067c85" stroke-width="3.5"/>
<path d="M612.0 473.0 C610.7 474.0 608.6 474.7 608.0 476.0 C607.4 477.3 607.8 479.7 608.5 481.0 C609.4 482.6 612.1 483.5 614.0 484.0 C616.8 484.7 620.0 483.4 623.0 483.0 C626.0 482.6 629.0 481.9 632.0 481.5 C634.2 481.2 636.3 481.0 638.5 480.8" stroke="#067c85" stroke-width="3.5"/>
<path d="M624.5 478.5 C624.7 480.3 624.7 482.2 625.0 484.0 C625.3 486.0 626.0 488.0 626.5 490.0" stroke="#067c85" stroke-width="3.5"/>
<path d="M634.0 489.5 C631.7 490.7 629.2 491.6 627.0 493.0 C625.3 494.1 622.4 494.8 622.0 496.5 C621.8 497.5 622.0 499.1 622.5 500.0 C623.4 501.6 626.1 501.8 628.0 502.5 C629.9 503.2 632.0 503.5 634.0 504.0" stroke="#067c85" stroke-width="3.5"/>
<path d="M622.5 505.5 C622.2 508.3 621.1 511.3 621.5 514.0 C621.9 516.6 622.7 519.6 624.5 521.5 C625.8 522.8 627.8 524.5 629.5 524.5 C631.2 524.5 633.4 523.0 634.5 521.5 C635.5 520.2 636.1 518.1 636.0 516.5 C635.9 514.8 634.8 512.6 633.5 511.5 C632.2 510.4 629.7 509.7 628.0 510.0 C626.2 510.3 624.7 512.3 623.0 513.5" stroke="#067c85" stroke-width="3.5"/>
<path d="M617.0 532.5 C617.7 534.3 618.2 536.2 619.0 538.0 C619.9 539.9 620.5 542.3 622.0 543.5 C623.3 544.5 625.4 545.1 627.0 545.0 C629.1 544.9 631.5 543.5 633.0 542.0 C635.0 540.1 636.0 536.8 636.5 534.0 C636.9 531.4 636.8 528.5 636.0 526.0 C635.7 525.2 635.3 524.3 635.0 523.5" stroke="#067c85" stroke-width="3.5"/>
<path d="M1210.5 518.5 C1212.0 520.0 1213.2 521.9 1215.0 523.0 C1217.0 524.2 1219.8 525.3 1222.0 525.0 C1224.2 524.7 1226.5 522.8 1228.0 521.0 C1229.7 518.9 1230.6 515.8 1231.0 513.0 C1231.2 511.4 1231.8 509.3 1231.0 508.0 C1230.6 507.4 1230.0 507.0 1229.5 506.5" stroke="#067c85" stroke-width="3.5"/>
<path d="M1224.0 485.5 C1222.3 487.7 1220.6 489.8 1219.0 492.0 C1217.6 494.0 1214.7 495.9 1215.0 498.0 C1215.2 499.1 1216.1 500.7 1217.0 501.5 C1218.6 502.9 1221.7 502.6 1224.0 502.5 C1226.0 502.4 1228.7 502.2 1230.0 501.0 C1231.5 499.6 1231.7 496.3 1231.5 494.0 C1231.3 491.9 1230.4 489.4 1229.0 488.0 C1227.8 486.8 1225.7 486.3 1224.0 485.5" stroke="#067c85" stroke-width="3.5"/>
<path d="M1215.5 470.5 C1215.2 472.3 1214.0 474.4 1214.5 476.0 C1214.9 477.5 1216.8 479.9 1218.0 480.0 C1219.3 480.1 1221.0 477.5 1222.0 476.0 C1223.6 473.5 1222.3 469.4 1224.0 467.0 C1225.0 465.6 1226.9 463.3 1228.0 463.5 C1229.1 463.7 1230.2 466.4 1230.8 468.0 C1231.8 470.7 1231.1 474.0 1231.2 477.0" stroke="#067c85" stroke-width="3.5"/>
<path d="M1208.5 458.2 C1211.7 457.6 1214.8 457.0 1218.0 456.5 C1222.2 455.8 1226.3 455.2 1230.5 454.5" stroke="#067c85" stroke-width="3.5"/>
<path d="M1217.8 453.0 C1217.8 454.7 1218.0 456.4 1217.8 458.0 C1217.6 459.2 1217.3 460.3 1217.0 461.5" stroke="#067c85" stroke-width="3.5"/>
<path d="M1215.5 433.5 C1214.2 434.3 1212.2 434.8 1211.5 436.0 C1210.6 437.5 1211.2 440.3 1212.0 442.0 C1212.8 443.6 1214.6 445.9 1216.0 446.0 C1217.5 446.1 1219.6 443.6 1220.5 442.0 C1221.7 439.8 1219.8 436.2 1221.0 434.0 C1221.8 432.7 1223.3 430.7 1224.5 430.5 C1225.9 430.3 1227.9 432.5 1229.0 434.0 C1230.2 435.6 1230.6 437.9 1231.0 440.0 C1231.3 441.8 1231.1 443.7 1231.2 445.5" stroke="#067c85" stroke-width="3.5"/>
<path d="M601.5 589.0 C601.6 594.3 601.1 599.7 601.8 605.0 C602.3 608.4 601.5 613.9 604.0 615.0 C605.2 615.5 607.4 615.2 609.0 615.0 C613.0 614.4 616.3 611.0 620.0 609.0" stroke="#067c85" stroke-width="3.3"/>
<path d="M630.0 600.0 C628.0 600.7 625.3 600.7 624.0 602.0 C622.7 603.3 621.6 606.2 622.0 608.0 C622.3 609.4 623.7 611.4 625.0 612.0 C626.6 612.7 629.5 612.1 631.0 611.0 C632.4 610.0 633.9 607.7 634.0 606.0 C634.1 604.4 633.3 602.0 632.0 601.0 C631.0 600.3 629.3 600.3 628.0 600.0" stroke="#067c85" stroke-width="3.3"/>
<path d="M637.5 601.5 C638.0 604.0 638.2 606.6 639.0 609.0 C639.6 610.9 640.7 612.7 641.5 614.5 C642.7 612.3 644.2 610.3 645.0 608.0 C645.4 606.7 645.7 605.3 646.0 604.0 C647.0 606.0 647.5 608.4 649.0 610.0 C649.8 611.0 651.0 611.7 652.0 612.5 C652.7 610.3 653.8 608.2 654.0 606.0 C654.2 603.7 653.3 601.3 653.0 599.0" stroke="#067c85" stroke-width="3.3"/>
<path d="M1180.0 590.0 C1181.0 593.3 1182.3 596.6 1183.0 600.0 C1183.6 603.3 1182.9 606.9 1184.0 610.0 C1184.5 611.4 1185.0 613.4 1186.0 614.0 C1187.4 614.8 1190.0 612.7 1192.0 612.0" stroke="#067c85" stroke-width="3.3"/>
<path d="M1205.0 597.5 C1203.0 598.0 1200.4 597.8 1199.0 599.0 C1197.5 600.2 1196.8 602.9 1196.5 605.0 C1196.2 607.1 1196.3 610.1 1197.5 611.5 C1198.6 612.8 1201.4 613.8 1203.0 613.5 C1204.8 613.2 1206.6 610.8 1207.5 609.0 C1208.5 607.0 1209.2 604.1 1208.5 602.0 C1208.0 600.3 1206.2 599.0 1205.0 597.5" stroke="#067c85" stroke-width="3.3"/>
<path d="M1205.0 602.0 L1204.0 607.0" stroke="#067c85" stroke-width="3.3"/>
<path d="M1215.5 602.0 C1216.0 604.3 1216.0 606.9 1217.0 609.0 C1217.7 610.5 1219.0 611.7 1220.0 613.0 C1221.7 611.3 1223.6 609.9 1225.0 608.0 C1226.4 606.2 1227.3 604.0 1228.5 602.0 C1229.0 604.0 1229.1 606.2 1230.0 608.0 C1230.9 609.7 1232.7 611.0 1234.0 612.5 C1235.5 610.7 1237.7 609.1 1238.5 607.0 C1239.6 604.4 1239.9 600.3 1238.5 598.0 C1237.6 596.5 1235.5 595.7 1234.0 594.5" stroke="#067c85" stroke-width="3.3"/>
<path d="M656.0 640.0 C674.0 639.5 692.0 638.7 710.0 638.5 C726.7 638.3 743.3 638.3 760.0 638.5 C780.0 638.7 800.0 639.6 820.0 640.0 C836.7 640.4 853.3 640.6 870.0 641.0 C886.7 641.4 903.3 641.9 920.0 642.5 C936.7 643.1 953.3 643.9 970.0 644.5 C986.7 645.1 1003.3 645.9 1020.0 646.0 C1034.0 646.1 1048.0 645.7 1062.0 645.5 C1074.7 645.3 1087.3 645.5 1100.0 645.0 C1110.0 644.6 1120.0 643.8 1130.0 643.0 C1140.0 642.2 1150.0 640.9 1160.0 640.0 C1166.3 639.4 1172.7 639.0 1179.0 638.5" stroke="#067c85" stroke-width="3.0"/>
<path d="M655.0 632.5 C655.2 635.0 654.9 637.6 655.5 640.0 C656.1 642.8 657.8 645.3 659.0 648.0" stroke="#067c85" stroke-width="3.0"/>
<path d="M1170.5 629.0 C1171.0 632.7 1171.6 636.3 1172.0 640.0 C1172.6 645.2 1173.0 650.3 1173.5 655.5" stroke="#067c85" stroke-width="3.0"/>
<path d="M750.0 659.0 C748.0 658.5 746.0 657.4 744.0 657.5 C742.0 657.6 739.4 658.1 738.0 659.5 C737.0 660.5 735.7 662.4 736.0 663.5 C736.3 664.6 738.6 665.6 740.0 666.0 C742.1 666.6 744.9 666.0 747.0 665.0 C748.5 664.3 750.8 663.4 751.0 662.0 C751.1 661.1 750.0 659.2 750.0 659.0 C750.0 658.7 751.2 661.8 752.0 663.0 C752.7 664.1 753.7 665.0 754.5 666.0" stroke="#067c85" stroke-width="3.2"/>
<path d="M762.0 654.0 C762.7 655.7 763.6 657.3 764.0 659.0 C764.3 660.3 764.3 661.7 764.5 663.0" stroke="#067c85" stroke-width="3.2"/>
<path d="M764.0 659.5 C765.3 658.0 766.3 655.5 768.0 655.0 C769.2 654.7 771.0 654.9 772.0 655.5 C773.4 656.4 773.4 661.1 774.0 661.0 C774.5 660.9 774.3 656.8 775.5 656.0 C776.3 655.4 778.0 655.2 779.0 655.5 C780.6 655.9 781.4 658.5 782.5 660.0 C783.6 661.5 784.5 663.0 785.5 664.5" stroke="#067c85" stroke-width="3.2"/>
<path d="M803.4 660.2 C802.1 659.1 801.0 657.5 799.5 657.0 C798.0 656.5 795.8 656.6 794.5 657.3 C793.1 658.0 791.2 660.1 791.3 661.5 C791.3 662.8 792.9 664.6 794.2 665.3 C795.5 666.0 797.6 666.1 799.0 665.6 C800.2 665.1 801.8 663.9 802.0 662.8 C802.1 661.9 801.2 660.7 800.8 659.7" stroke="#067c85" stroke-width="3.2"/>
<path d="M807.0 655.5 C807.7 656.8 808.2 658.3 809.0 659.5 C810.1 661.2 811.3 663.5 813.0 664.0 C814.2 664.3 815.9 664.0 817.0 663.5 C818.5 662.8 819.3 659.7 820.5 659.5 C822.0 659.3 823.5 662.8 825.0 664.5" stroke="#067c85" stroke-width="3.2"/>
<path d="M830.5 657.0 C830.8 658.3 831.2 659.7 831.5 661.0 C831.7 662.3 831.8 663.7 832.0 665.0" stroke="#067c85" stroke-width="3.2"/>
<path d="M832.0 662.0 C833.0 660.0 833.5 657.5 835.0 656.0 C836.3 654.8 838.4 653.4 840.0 653.5 C841.5 653.6 843.4 654.8 844.5 656.0 C845.8 657.5 846.1 659.9 846.5 662.0 C846.9 663.8 846.8 665.7 847.0 667.5" stroke="#067c85" stroke-width="3.2"/>
<path d="M855.5 650.0 C855.8 653.3 856.2 656.7 856.5 660.0 C856.8 663.5 857.2 667.0 857.5 670.5" stroke="#067c85" stroke-width="3.2"/>
<path d="M852.5 660.0 L860.0 660.0" stroke="#067c85" stroke-width="3.2"/>
<path d="M906.0 658.5 C904.0 658.0 902.0 656.9 900.0 657.0 C898.1 657.1 895.7 657.7 894.5 659.0 C893.5 660.2 892.7 662.5 893.0 664.0 C893.3 665.5 894.7 667.4 896.0 668.0 C897.3 668.6 899.6 668.2 901.0 667.5 C902.5 666.8 903.7 665.0 904.5 663.5 C905.3 662.0 905.5 660.2 906.0 658.5" stroke="#067c85" stroke-width="3.2"/>
<path d="M922.5 651.5 C921.7 650.2 921.2 647.8 920.0 647.5 C919.1 647.2 917.4 647.9 916.5 648.5 C914.9 649.7 915.3 652.8 915.0 655.0 C914.6 658.3 915.3 661.7 915.5 665.0 C915.6 667.3 915.8 669.7 916.0 672.0" stroke="#067c85" stroke-width="3.2"/>
<path d="M910.0 663.5 L919.0 663.0" stroke="#067c85" stroke-width="3.2"/>
<path d="M944.5 650.0 C944.5 653.3 944.3 656.7 944.5 660.0 C944.7 663.2 945.2 666.3 945.5 669.5" stroke="#067c85" stroke-width="3.2"/>
<path d="M936.5 659.8 L950.0 659.5" stroke="#067c85" stroke-width="3.2"/>
<path d="M957.0 663.0 C959.0 662.0 961.6 661.6 963.0 660.0 C963.9 658.9 965.5 657.0 965.0 656.0 C964.6 655.3 963.0 654.6 962.0 654.5 C960.5 654.4 958.6 655.8 957.5 657.0 C956.2 658.5 955.3 661.1 955.5 663.0 C955.7 664.7 956.7 667.2 958.0 668.0 C959.4 668.9 962.0 667.9 964.0 667.5 C966.4 667.0 968.7 665.8 971.0 665.0" stroke="#067c85" stroke-width="3.2"/>
<path d="M979.5 658.5 C978.0 658.2 976.2 656.9 975.0 657.5 C974.2 657.9 973.1 659.2 973.0 660.0 C972.8 661.3 975.5 662.6 977.0 663.5 C978.8 664.7 981.9 664.4 983.0 666.0 C983.6 666.9 984.3 668.6 984.0 669.5 C983.6 670.6 981.4 671.3 980.0 671.5 C978.1 671.8 976.0 670.5 974.0 670.0" stroke="#067c85" stroke-width="3.2"/>
<path d="M991.5 651.0 C991.7 654.3 991.8 657.7 992.0 661.0 C992.2 664.2 992.5 667.3 992.8 670.5" stroke="#067c85" stroke-width="3.2"/>
<path d="M988.0 660.0 L996.0 659.5" stroke="#067c85" stroke-width="3.2"/>
<path d="M1013.0 659.0 C1011.3 658.8 1009.4 657.9 1008.0 658.5 C1007.1 658.9 1005.6 659.9 1005.5 660.5 C1005.3 661.4 1008.5 661.9 1010.0 662.5 C1011.8 663.2 1014.5 663.1 1015.5 664.5 C1016.1 665.4 1016.7 667.1 1016.5 668.0 C1016.2 669.3 1013.6 669.9 1012.0 670.5 C1009.5 671.4 1006.7 671.2 1004.0 671.5 C1002.3 671.7 1000.7 671.8 999.0 672.0" stroke="#067c85" stroke-width="3.2"/>
<path d="M703.1 810.6 C707.1 808.3 710.9 805.7 715.0 803.8 C719.8 801.4 724.9 799.5 730.0 798.1 C736.9 796.3 744.2 796.5 751.2 795.6" stroke="#3d44f5" stroke-width="7.2"/>
<path d="M729.4 801.2 C730.2 807.5 731.1 813.7 731.9 820.0 C732.7 826.7 734.3 833.3 734.4 840.0 C734.4 845.2 733.5 850.4 733.1 855.6" stroke="#3d44f5" stroke-width="7.2"/>
<path d="M751.2 838.8 C755.0 837.1 758.9 835.7 762.5 833.8 C766.4 831.6 771.5 830.0 773.8 826.2 C774.6 824.9 776.0 822.8 775.6 821.9 C775.2 820.7 771.8 820.5 770.0 820.6 C767.3 820.8 764.7 823.2 762.5 825.0 C759.5 827.4 756.9 830.5 755.0 833.8 C753.2 836.8 751.1 840.4 751.2 843.8 C751.4 846.7 752.9 850.5 755.0 852.5 C757.3 854.7 761.7 855.6 765.0 855.6 C768.3 855.6 771.7 853.7 775.0 852.5 C777.7 851.5 780.4 850.4 783.1 849.4" stroke="#3d44f5" stroke-width="7.2"/>
<path d="M807.5 828.8 C806.7 826.7 806.5 823.9 805.0 822.5 C803.5 821.2 800.7 820.3 798.8 820.6 C796.7 821.0 793.5 823.2 793.1 825.0 C792.7 826.8 794.8 829.5 796.2 831.2 C798.3 833.7 802.4 834.2 805.0 836.2 C807.3 838.0 810.8 840.0 811.2 842.5 C811.7 844.7 810.2 847.9 808.8 850.0 C807.2 852.4 803.7 856.3 801.9 855.6 C800.6 855.1 799.5 852.0 798.8 850.0 C797.7 847.4 797.5 844.6 796.9 841.9" stroke="#3d44f5" stroke-width="7.2"/>
<path d="M822.5 794.4 C823.3 799.6 824.5 804.8 825.0 810.0 C825.5 815.4 825.8 820.8 825.6 826.2 C825.4 831.7 824.9 837.2 823.8 842.5 C822.8 846.7 821.1 857.8 820.0 855.0 C819.8 854.4 819.6 853.3 819.4 852.5" stroke="#3d44f5" stroke-width="7.2"/>
<path d="M817.5 831.9 C820.0 830.8 822.4 829.4 825.0 828.8 C828.8 827.8 832.9 828.3 836.9 828.1" stroke="#3d44f5" stroke-width="7.2"/>
<path d="M878.1 815.6 C879.6 811.7 880.4 807.3 882.5 803.8 C884.4 800.5 886.9 797.1 890.0 795.0 C893.2 792.9 897.5 791.2 901.2 791.2 C904.6 791.3 908.4 792.6 911.2 794.4 C915.0 796.7 917.7 801.1 920.0 805.0 C921.8 808.1 925.2 812.1 924.4 815.0 C923.7 817.4 920.1 819.7 917.5 821.2 C913.9 823.4 909.2 823.3 905.0 824.4" stroke="#3d44f5" stroke-width="7.2"/>
<path d="M895.6 796.9 C896.7 802.5 897.8 808.1 898.8 813.8 C899.7 820.0 900.7 826.2 901.2 832.5 C901.7 837.5 903.7 843.0 901.9 847.5 C901.3 849.0 900.2 850.4 899.4 851.9" stroke="#3d44f5" stroke-width="7.2"/>
<path d="M934.4 818.1 C936.7 821.7 938.9 825.2 941.2 828.8 C944.1 833.0 946.8 837.3 950.0 841.2 C952.2 843.9 954.6 846.2 956.9 848.8" stroke="#3d44f5" stroke-width="7.2"/>
<path d="M960.6 814.4 C959.2 819.6 957.6 824.8 956.2 830.0 C954.8 835.8 953.8 841.7 952.5 847.5 C951.0 854.2 949.4 860.9 947.5 867.5 C946.5 870.9 946.0 874.4 944.4 877.5 C943.8 878.6 943.1 879.6 942.5 880.6" stroke="#3d44f5" stroke-width="7.2"/>
<path d="M974.4 817.5 C974.6 821.2 974.5 825.0 975.0 828.8 C975.5 833.0 977.0 837.0 977.5 841.2 C977.8 843.5 977.9 845.8 978.1 848.1" stroke="#3d44f5" stroke-width="7.2"/>
<path d="M976.2 825.0 C978.3 823.5 980.2 821.6 982.5 820.6 C984.8 819.7 987.5 819.6 990.0 819.4 C992.3 819.2 994.6 819.4 996.9 819.4" stroke="#3d44f5" stroke-width="7.2"/>
<path d="M1021.9 818.1 C1020.5 817.2 1019.1 815.4 1017.8 815.2 C1016.0 815.1 1013.9 817.8 1012.5 819.4 C1009.8 822.4 1008.2 827.2 1008.1 831.2 C1008.1 834.1 1008.5 837.6 1010.0 840.0 C1011.2 842.0 1013.5 844.8 1015.2 845.0 C1017.5 845.3 1020.5 841.4 1022.2 839.0 C1024.6 835.8 1026.4 831.4 1026.2 827.5 C1026.1 825.0 1025.4 822.1 1024.0 820.0 C1023.0 818.5 1021.3 817.3 1020.0 816.0" stroke="#3d44f5" stroke-width="7.2"/>
<path d="M1026.2 827.5 C1027.1 830.8 1027.6 834.3 1028.8 837.5 C1029.6 840.1 1030.8 842.5 1031.9 845.0" stroke="#3d44f5" stroke-width="7.2"/>
<path d="M1043.8 816.9 C1044.6 820.8 1045.5 824.8 1046.2 828.8 C1047.0 833.1 1047.5 837.5 1048.1 841.9" stroke="#3d44f5" stroke-width="7.2"/>
<path d="M1044.4 817.5 C1045.8 815.0 1046.5 811.2 1048.8 810.0 C1050.4 809.1 1053.2 808.9 1055.0 809.4 C1057.9 810.2 1059.7 814.5 1061.2 817.5 C1062.8 820.5 1063.9 824.1 1064.4 827.5 C1064.9 830.8 1064.4 834.2 1064.4 837.5" stroke="#3d44f5" stroke-width="7.2"/>
<path d="M1064.4 822.5 C1065.8 818.8 1065.7 813.3 1068.8 811.2 C1070.4 810.1 1073.3 809.0 1075.0 809.4 C1077.6 809.9 1079.4 814.6 1080.6 817.5 C1082.2 821.3 1082.1 825.8 1082.5 830.0 C1082.8 832.7 1082.9 835.4 1083.1 838.1" stroke="#3d44f5" stroke-width="7.2"/>
<path d="M1095.0 810.6 C1094.6 815.4 1094.3 820.2 1093.8 825.0 C1093.2 829.8 1092.5 834.6 1091.9 839.4" stroke="#3d44f5" stroke-width="7.2"/>
<path d="M1087.5 790.0 L1090.0 791.9" stroke="#3d44f5" stroke-width="7.2"/>
<path d="M1135.0 814.4 C1132.5 813.0 1130.2 811.1 1127.5 810.2 C1125.1 809.5 1122.2 808.6 1120.0 809.1 C1116.8 809.9 1114.3 814.3 1112.5 817.5 C1110.4 821.2 1108.7 825.8 1108.8 830.0 C1108.8 833.3 1109.2 837.7 1111.2 840.0 C1112.9 841.9 1116.3 843.8 1118.8 843.8 C1121.8 843.7 1125.0 840.0 1127.5 837.5 C1130.0 835.0 1132.2 832.0 1133.8 828.8 C1134.5 827.2 1135.0 825.4 1135.6 823.8" stroke="#3d44f5" stroke-width="7.2"/>
<path d="M1136.9 785.0 C1136.7 792.5 1136.5 800.0 1136.2 807.5 C1136.1 813.8 1135.7 820.0 1135.6 826.2 C1135.6 831.2 1135.6 836.2 1135.6 841.2" stroke="#3d44f5" stroke-width="7.2"/>
<path d="M989.6 329.3 C987.5 332.6 985.1 335.7 983.3 339.2 C980.9 344.0 979.7 349.4 977.9 354.6" stroke="#5055f6" stroke-width="1.7"/>
<path d="M1002.1 330.0 C999.7 333.6 997.3 337.2 995.0 340.8 C992.7 344.5 990.6 348.3 988.3 352.1" stroke="#5055f6" stroke-width="1.7"/>
<path d="M1008.3 339.6 L998.8 350.8" stroke="#5055f6" stroke-width="1.7"/>
<path d="M1024.2 366.7 L1022.5 368.8" stroke="#5055f6" stroke-width="1.0"/>
<path d="M995.0 357.5 C990.6 360.3 986.2 363.1 981.7 365.8 C978.1 368.0 973.4 368.9 970.8 372.1 C970.0 373.1 968.7 374.3 968.8 375.4 C968.8 376.6 970.4 377.6 971.2 378.8" stroke="#067c85" stroke-width="1.65"/>
<path d="M1009.2 358.3 C1004.2 361.4 999.0 364.3 994.2 367.5 C990.2 370.1 985.3 372.1 982.5 375.8 C981.5 377.1 980.1 378.5 980.0 380.0 C979.9 381.1 980.6 382.2 980.8 383.3" stroke="#067c85" stroke-width="1.65"/>
<path d="M1024.2 359.6 C1019.7 362.5 1015.1 365.1 1010.8 368.3 C1007.4 370.9 1004.0 373.7 1000.8 376.7 C997.9 379.4 995.3 382.5 992.5 385.4" stroke="#067c85" stroke-width="1.65"/>
<path d="M1021.2 371.7 C1018.3 374.4 1015.1 377.0 1012.5 380.0 C1009.7 383.2 1007.5 386.9 1005.0 390.4" stroke="#067c85" stroke-width="1.65"/>
<path d="M1022.9 384.6 L1014.6 394.6" stroke="#067c85" stroke-width="1.65"/>
<path d="M857.1 331.2 C853.3 334.7 849.4 338.0 845.8 341.7 C841.6 346.1 838.1 351.1 834.2 355.8" stroke="#8083f9" stroke-width="1.15"/>
<path d="M864.2 329.6 C861.1 332.2 857.7 334.6 855.0 337.5 C850.2 342.6 847.5 349.4 843.8 355.4" stroke="#8083f9" stroke-width="1.15"/>
<path d="M792.5 437.3 C787.5 442.7 782.2 447.7 777.5 453.3 C774.0 457.6 770.6 462.1 767.5 466.7 C765.8 469.3 764.2 471.9 762.5 474.6" stroke="#067c85" stroke-width="1.65"/>
<path d="M797.1 447.5 C792.5 451.4 787.6 455.0 783.3 459.2 C779.8 462.6 776.5 466.3 773.3 470.0 C772.1 471.5 770.8 473.1 769.6 474.6" stroke="#067c85" stroke-width="1.65"/>
<path d="M815.0 449.6 C812.8 450.6 810.4 451.3 808.3 452.5 C803.8 455.1 800.2 459.4 796.7 463.3 C794.8 465.5 792.0 467.3 791.2 470.0 C791.0 470.8 791.0 471.7 790.8 472.5" stroke="#067c85" stroke-width="1.65"/>
<path d="M827.1 455.8 L807.5 468.8" stroke="#067c85" stroke-width="1.65"/>
<path d="M844.6 453.8 L825.8 470.0" stroke="#067c85" stroke-width="1.65"/>
<path d="M866.7 452.1 C862.8 454.6 858.4 456.5 855.0 459.6 C852.0 462.3 849.7 466.0 847.1 469.2" stroke="#067c85" stroke-width="1.65"/>
<path d="M1041.7 470.4 C1040.0 473.6 1038.1 476.7 1036.7 480.0 C1035.1 483.6 1034.2 487.5 1032.9 491.2" stroke="#8083f9" stroke-width="1.15"/>
<path d="M1051.7 467.9 C1050.0 472.5 1048.6 477.2 1046.7 481.7 C1044.6 486.6 1041.9 491.4 1039.6 496.2" stroke="#8083f9" stroke-width="1.15"/>
<path d="M1058.8 472.9 C1056.7 477.8 1054.7 482.7 1052.5 487.5 C1050.4 492.0 1048.1 496.4 1045.8 500.8" stroke="#8083f9" stroke-width="1.15"/>
<path d="M1067.1 469.6 C1064.2 476.1 1061.6 482.8 1058.3 489.2 C1056.0 493.7 1053.3 498.1 1050.8 502.5" stroke="#8083f9" stroke-width="1.15"/>
<path d="M1073.8 470.4 C1071.9 471.9 1069.8 473.3 1068.3 475.0 C1064.9 478.9 1064.1 484.9 1062.5 490.0 C1060.8 495.4 1060.0 501.1 1058.8 506.7" stroke="#8083f9" stroke-width="1.15"/>
<path d="M1079.2 474.2 C1076.4 480.3 1073.5 486.3 1070.8 492.5 C1068.5 497.9 1066.4 503.3 1064.2 508.8" stroke="#8083f9" stroke-width="1.15"/>
<path d="M1082.1 480.8 C1080.3 485.3 1078.1 489.6 1076.7 494.2 C1075.5 498.0 1074.7 501.9 1073.8 505.8" stroke="#8083f9" stroke-width="1.15"/>
<path d="M1084.6 485.0 C1084.2 488.9 1084.0 492.8 1083.3 496.7 C1082.7 500.2 1081.7 503.6 1080.8 507.1" stroke="#8083f9" stroke-width="1.15"/>
<path d="M702.0 581.5 C699.7 583.3 697.1 584.9 695.0 587.0 C691.3 590.6 688.8 595.6 686.0 600.0 C683.9 603.3 682.0 606.7 680.0 610.0" stroke="#8083f9" stroke-width="1.3"/>
<path d="M714.0 580.0 C710.0 583.7 705.6 587.0 702.0 591.0 C697.9 595.6 688.7 600.9 691.0 606.0 C691.4 607.0 692.3 608.0 693.0 609.0" stroke="#8083f9" stroke-width="1.3"/>
<path d="M723.0 582.5 C719.3 586.3 715.6 590.1 712.0 594.0 C708.3 598.0 704.7 602.0 701.0 606.0" stroke="#8083f9" stroke-width="1.3"/>
<path d="M728.0 586.0 C725.3 589.3 722.6 592.6 720.0 596.0 C716.5 600.6 713.3 605.3 710.0 610.0" stroke="#8083f9" stroke-width="1.3"/>
<path d="M738.5 591.0 C735.0 594.0 731.2 596.7 728.0 600.0 C724.7 603.4 722.0 607.3 719.0 611.0" stroke="#8083f9" stroke-width="1.3"/>
<path d="M746.5 594.5 L734.5 611.0" stroke="#8083f9" stroke-width="1.3"/>
</svg></body></html>
